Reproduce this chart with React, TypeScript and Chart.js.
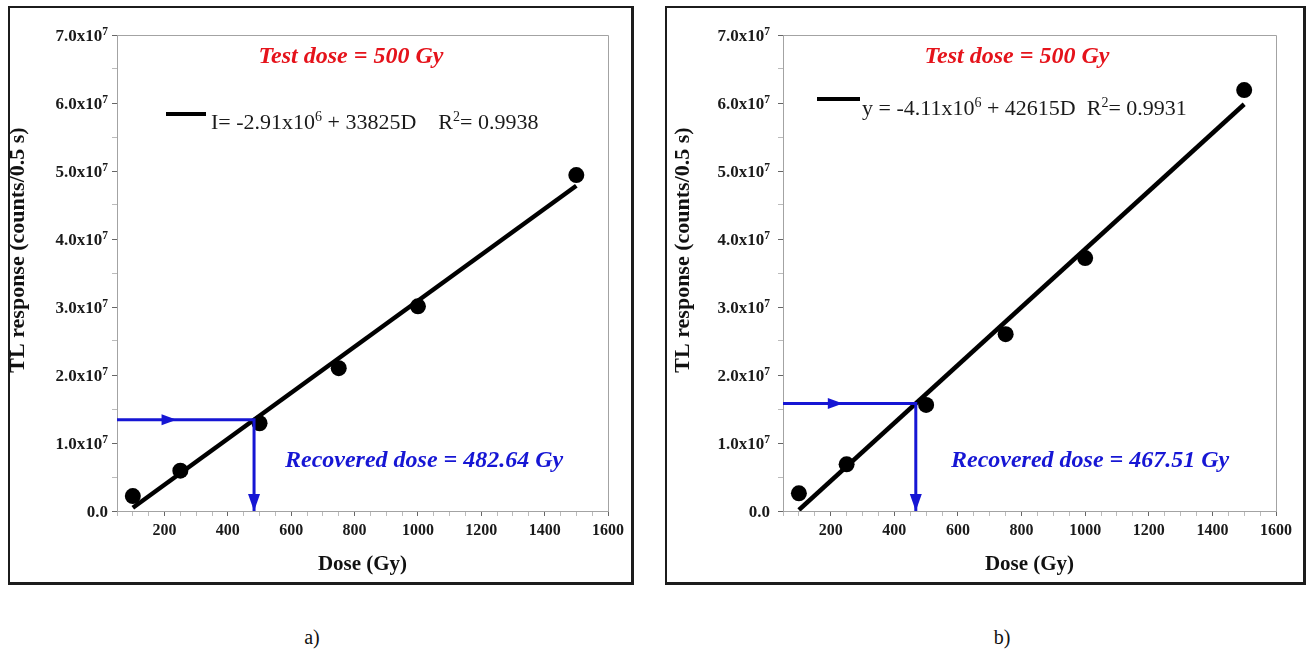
import React, { useEffect, useRef } from 'react';
import { Chart, registerables } from 'chart.js';

Chart.register(...registerables);

// Measured TL response for each irradiation dose
const doses = [100, 250, 500, 750, 1000, 1500];
const responseA = [2.2e6, 5.93e6, 1.29e7, 2.1e7, 3.01e7, 4.94e7];
const responseB = [2.6e6, 6.87e6, 1.56e7, 2.6e7, 3.72e7, 6.19e7];

// Linear fits I = a + b·D
const fitA = { intercept: -2.91e6, slope: 33825 };
const fitB = { intercept: -4.11e6, slope: 42615 };
const r2A = 0.9938;
const r2B = 0.9931;
const fitDoseRange = [100, 1500];

// Dose recovered from the test-dose response
const testDose = 500;
const recoveredA = 482.64;
const recoveredB = 467.51;

// Axes
const xRange = [50, 1600];
const yRange = [0, 7e7];
const xTickValues = [200, 400, 600, 800, 1000, 1200, 1400, 1600];
const yTickValues = [0, 1e7, 2e7, 3e7, 4e7, 5e7, 6e7, 7e7];

const FONT = '"Liberation Serif", "Times New Roman", serif';
const BLUE = '#1616d4';
const RED = '#e5131b';

type Seg = { t: string; sup?: boolean };

interface PanelSpec {
  w: number;
  h: number;
  padRight: number;
  yAxisWidth: number;
  titleX: number;
  tickGap: number;
  points: number[];
  fit: { intercept: number; slope: number };
  r2: number;
  eqLead: string;
  eqGap: string;
  legend: { x0: number; x1: number; y: number; tx: number; ty: number };
  recovered: number;
}

const panelA: PanelSpec = {
  w: 621, h: 574, padRight: 23, yAxisWidth: 107, titleX: 14, tickGap: 9,
  points: responseA, fit: fitA, r2: r2A, eqLead: 'I= ', eqGap: '    ',
  legend: { x0: 49, x1: 89, y: 79, tx: 94, ty: 94 },
  recovered: recoveredA,
};

const panelB: PanelSpec = {
  w: 636, h: 574, padRight: 27, yAxisWidth: 116, titleX: 22, tickGap: 13,
  points: responseB, fit: fitB, r2: r2B, eqLead: 'y = ', eqGap: '  ',
  legend: { x0: 34, x1: 77, y: 64, tx: 79, ty: 80 },
  recovered: recoveredB,
};

const GUIDE_ARROW_AT = 238;

function richWidth(ctx: CanvasRenderingContext2D, segs: Seg[], font: string, supFont: string) {
  let w = 0;
  for (const s of segs) {
    ctx.font = s.sup ? supFont : font;
    w += ctx.measureText(s.t).width;
  }
  return w;
}

function drawRich(
  ctx: CanvasRenderingContext2D, segs: Seg[], x: number, y: number,
  font: string, supFont: string, raise: number,
) {
  ctx.textAlign = 'left';
  ctx.textBaseline = 'alphabetic';
  let cx = x;
  for (const s of segs) {
    ctx.font = s.sup ? supFont : font;
    ctx.fillText(s.t, cx, s.sup ? y - raise : y);
    cx += ctx.measureText(s.t).width;
  }
}

function makeAnnotations(spec: PanelSpec) {
  const yAt = (d: number) => spec.fit.intercept + spec.fit.slope * d;
  return {
    id: 'annotations',
    beforeDatasetsDraw(chart: any) {
      const { ctx, chartArea: a } = chart;
      ctx.save();
      ctx.strokeStyle = '#a3a3a3';
      ctx.lineWidth = 1;
      ctx.beginPath();
      ctx.moveTo(a.left, a.top + 0.5);
      ctx.lineTo(a.right + 0.5, a.top + 0.5);
      ctx.lineTo(a.right + 0.5, a.bottom);
      ctx.stroke();
      ctx.restore();
    },
    afterDatasetsDraw(chart: any) {
      const { ctx } = chart;
      const xs = chart.scales.x;
      const ys = chart.scales.y;
      const level = yAt(spec.recovered);
      ctx.save();
      ctx.fillStyle = BLUE;
      // arrowhead on the horizontal guide
      const hx = xs.getPixelForValue(GUIDE_ARROW_AT);
      const hy = ys.getPixelForValue(level);
      ctx.beginPath();
      ctx.moveTo(hx, hy);
      ctx.lineTo(hx - 15, hy - 5.5);
      ctx.lineTo(hx - 15, hy + 5.5);
      ctx.closePath();
      ctx.fill();
      // arrowhead on the vertical guide, touching the dose axis
      const vx = xs.getPixelForValue(spec.recovered);
      const vy = ys.getPixelForValue(0);
      ctx.beginPath();
      ctx.moveTo(vx, vy);
      ctx.lineTo(vx - 6, vy - 17);
      ctx.lineTo(vx + 6, vy - 17);
      ctx.closePath();
      ctx.fill();
      ctx.restore();
    },
    afterDraw(chart: any) {
      const { ctx, chartArea: a } = chart;
      const ys = chart.scales.y;
      ctx.save();

      // y tick labels with exponent
      ctx.fillStyle = '#1a1a1a';
      const tf = `bold 17px ${FONT}`;
      const tsf = `bold 11.5px ${FONT}`;
      for (const v of yTickValues) {
        const segs: Seg[] = v === 0
          ? [{ t: '0.0' }]
          : [{ t: `${(v / 1e7).toFixed(1)}x10` }, { t: '7', sup: true }];
        const w = richWidth(ctx, segs, tf, tsf);
        const py = ys.getPixelForValue(v);
        drawRich(ctx, segs, a.left - spec.tickGap - w, py + 6, tf, tsf, 6.5);
      }

      // y axis title
      ctx.save();
      ctx.translate(spec.titleX, 242);
      ctx.rotate(-Math.PI / 2);
      ctx.font = `bold 22px ${FONT}`;
      ctx.fillStyle = '#111';
      ctx.textAlign = 'center';
      ctx.textBaseline = 'alphabetic';
      ctx.fillText('TL response (counts/0.5 s)', 0, 0);
      ctx.restore();

      // test dose caption
      ctx.font = `italic bold 24px ${FONT}`;
      ctx.fillStyle = RED;
      ctx.textAlign = 'center';
      ctx.textBaseline = 'alphabetic';
      ctx.fillText(`Test dose = ${testDose} Gy`, a.left + 234, a.top + 28);

      // fit legend
      const L = spec.legend;
      ctx.strokeStyle = '#000';
      ctx.lineWidth = 4;
      ctx.beginPath();
      ctx.moveTo(a.left + L.x0, a.top + L.y);
      ctx.lineTo(a.left + L.x1, a.top + L.y);
      ctx.stroke();
      ctx.fillStyle = '#1a1a1a';
      const eq: Seg[] = [
        { t: `${spec.eqLead}${(spec.fit.intercept / 1e6).toFixed(2)}x10` },
        { t: '6', sup: true },
        { t: ` + ${spec.fit.slope}D${spec.eqGap}R` },
        { t: '2', sup: true },
        { t: `= ${spec.r2.toFixed(4)}` },
      ];
      drawRich(ctx, eq, a.left + L.tx, a.top + L.ty, `22px ${FONT}`, `14px ${FONT}`, 8);

      // recovered dose caption
      ctx.font = `italic bold 24px ${FONT}`;
      ctx.fillStyle = BLUE;
      ctx.textAlign = 'left';
      ctx.fillText(`Recovered dose = ${spec.recovered.toFixed(2)} Gy`, a.left + 168, a.top + 432);

      ctx.restore();
    },
  };
}

function Panel({ spec }: { spec: PanelSpec }) {
  const ref = useRef<HTMLCanvasElement>(null);

  useEffect(() => {
    const canvas = ref.current;
    if (!canvas) return;
    const yAt = (d: number) => spec.fit.intercept + spec.fit.slope * d;
    const level = yAt(spec.recovered);
    const tickFont = { family: FONT, size: 16, weight: 'bold' as const };

    const chart = new Chart(canvas, {
      type: 'scatter',
      data: {
        datasets: [
          {
            type: 'line',
            label: 'guide',
            data: [
              { x: xRange[0], y: level },
              { x: spec.recovered, y: level },
              { x: spec.recovered, y: 0 },
            ],
            borderColor: BLUE,
            borderWidth: 3,
            pointRadius: 0,
            fill: false,
            tension: 0,
          },
          {
            label: 'measured',
            data: doses.map((d, i) => ({ x: d, y: spec.points[i] })),
            backgroundColor: '#000',
            borderColor: '#000',
            borderWidth: 0,
            pointRadius: 8,
            pointHoverRadius: 8,
          },
          {
            type: 'line',
            label: 'fit',
            data: fitDoseRange.map((d) => ({ x: d, y: yAt(d) })),
            borderColor: '#000',
            borderWidth: 4.5,
            pointRadius: 0,
            fill: false,
            tension: 0,
          },
        ],
      } as any,
      options: {
        animation: false,
        responsive: false,
        events: [],
        layout: { padding: { top: 27, right: spec.padRight, left: 0, bottom: 0 } },
        plugins: { legend: { display: false }, tooltip: { enabled: false } },
        scales: {
          x: {
            type: 'linear',
            min: xRange[0],
            max: xRange[1],
            afterFit: (s: any) => { s.height = spec.h - 503; },
            ticks: {
              stepSize: 50,
              maxTicksLimit: 100,
              autoSkip: false,
              maxRotation: 0,
              minRotation: 0,
              padding: 5,
              color: '#1a1a1a',
              font: tickFont,
              callback: (v: any) => (xTickValues.includes(Number(v)) ? String(v) : ''),
            },
            grid: {
              drawOnChartArea: false,
              drawTicks: true,
              tickLength: 5,
              tickWidth: 1,
              tickColor: (c: any) => (c.tick && c.tick.value % 200 === 0 ? '#666' : '#bbb'),
            },
            border: { color: '#a3a3a3', width: 1 },
            title: {
              display: true,
              text: 'Dose (Gy)',
              color: '#111',
              font: { family: FONT, size: 21, weight: 'bold' },
              padding: { top: 0, bottom: 5 },
            },
          },
          y: {
            type: 'linear',
            min: yRange[0],
            max: yRange[1],
            afterFit: (s: any) => { s.width = spec.yAxisWidth; },
            ticks: {
              stepSize: 5e6,
              maxTicksLimit: 100,
              autoSkip: false,
              callback: () => '',
            },
            grid: {
              drawOnChartArea: false,
              drawTicks: true,
              tickLength: 5,
              tickWidth: 1,
              tickColor: (c: any) => (c.tick && c.tick.value % 1e7 === 0 ? '#666' : '#bbb'),
            },
            border: { color: '#a3a3a3', width: 1 },
          },
        },
      } as any,
      plugins: [makeAnnotations(spec)],
    });

    return () => chart.destroy();
  }, [spec]);

  return (
    <canvas
      ref={ref}
      width={spec.w}
      height={spec.h}
      style={{ position: 'absolute', left: 0, top: 0, width: spec.w, height: spec.h }}
    />
  );
}

const frameStyle: React.CSSProperties = {
  position: 'absolute',
  top: 6,
  height: 579,
  boxSizing: 'border-box',
  borderStyle: 'solid',
  borderColor: '#1c1c1c',
  borderWidth: '2px 3px 3px 2px',
  background: '#fff',
};

const captionStyle: React.CSSProperties = {
  position: 'absolute',
  top: 627,
  width: 40,
  textAlign: 'center',
  fontFamily: FONT,
  fontSize: 20,
  lineHeight: '20px',
  color: '#111',
};

export default function App() {
  return (
    <div style={{ position: 'absolute', left: 0, top: 0, width: 1307, height: 653, background: '#fff' }}>
      <div style={{ ...frameStyle, left: 8, width: 626 }}>
        <Panel spec={panelA} />
      </div>
      <div style={{ ...frameStyle, left: 665, width: 641 }}>
        <Panel spec={panelB} />
      </div>
      <div style={{ ...captionStyle, left: 292 }}>a)</div>
      <div style={{ ...captionStyle, left: 982 }}>b)</div>
    </div>
  );
}
